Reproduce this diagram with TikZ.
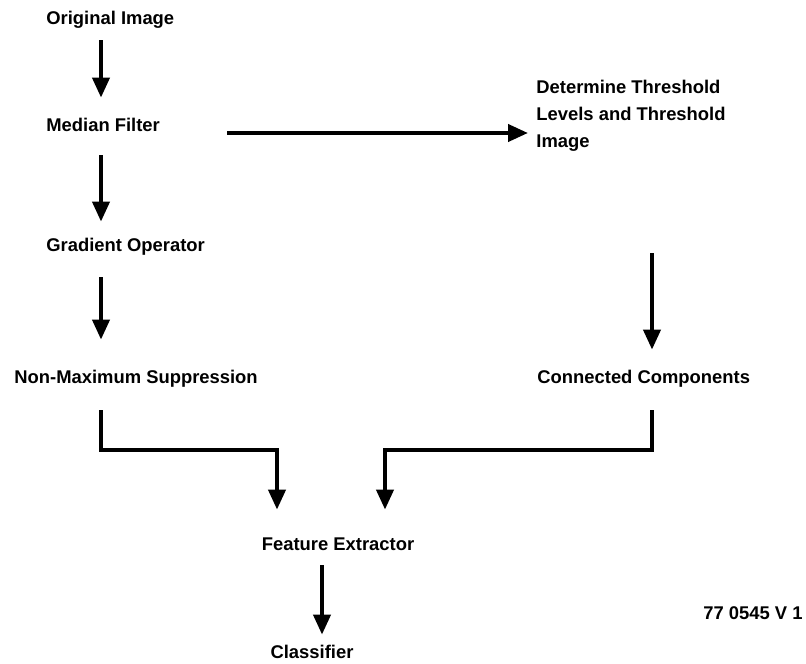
\documentclass[tikz,border=0pt]{standalone}
\usepackage{fontspec}
\setmainfont{Liberation Sans}
\usetikzlibrary{arrows.meta}

\tikzset{
    label/.style={font=\fontsize{9.2pt}{13.5pt}\selectfont\bfseries, inner sep=0pt, anchor=west},
    stage/.style={label, text height=7pt, text depth=2pt},
    flow/.style={line width=2pt, -{Triangle[length=10pt,width=8.5pt]}}
}

\begin{document}
\begin{tikzpicture}[x=0.5pt,y=-0.5pt]
    \useasboundingbox (0,0) rectangle (806,663);

    % left column
    \node[stage] (orig) at (46,20) {Original Image};
    \node[stage] (median) at (46,127) {Median Filter};
    \node[stage] (grad) at (46,246) {Gradient Operator};
    \node[stage] (nms) at (14,378) {Non-Maximum Suppression};

    % right column
    \node[label, align=left] (thresh) at (536,116) {Determine Threshold \\ Levels and Threshold \\ Image};
    \node[stage] (conn) at (537,378) {Connected Components};

    % bottom
    \node[stage, anchor=center] (feat) at (338,545) {Feature Extractor};
    \node[stage, anchor=center] (clas) at (312,653) {Classifier};
    \node[stage, anchor=east] (code) at (803,614) {77 0545 V 1};

    \coordinate (colL) at (101,0);
    \coordinate (colR) at (652,0);
    \coordinate (colC) at (322,0);
    \coordinate (joinL) at (277,450);
    \coordinate (joinR) at (385,450);

    \draw[flow, shorten <=5.5pt, shorten >=10pt] (orig.south -| colL) -- (median.north -| colL);
    \draw[flow, shorten <=9.5pt, shorten >=7.5pt] (median.south -| colL) -- (grad.north -| colL);
    \draw[flow, shorten <=11pt, shorten >=14.5pt] (grad.south -| colL) -- (nms.north -| colL);
    \draw[flow, shorten <=33.5pt, shorten >=4pt] ([yshift=-3pt]median.east) -- ([yshift=-3pt]median.east -| thresh.west);
    \draw[flow, shorten <=50.6pt, shorten >=9.5pt] (thresh.south -| colR) -- (conn.north -| colR);

    \draw[flow, shorten <=11.5pt, shorten >=13pt] (nms.south -| colL) |- (joinL) -- (feat.north -| joinL);
    \draw[flow, shorten <=11.5pt, shorten >=13pt] (conn.south -| colR) |- (joinR) -- (feat.north -| joinR);

    \draw[flow, shorten <=5.5pt, shorten >=4.5pt] (feat.south -| colC) -- (clas.north -| colC);
\end{tikzpicture}
\end{document}
